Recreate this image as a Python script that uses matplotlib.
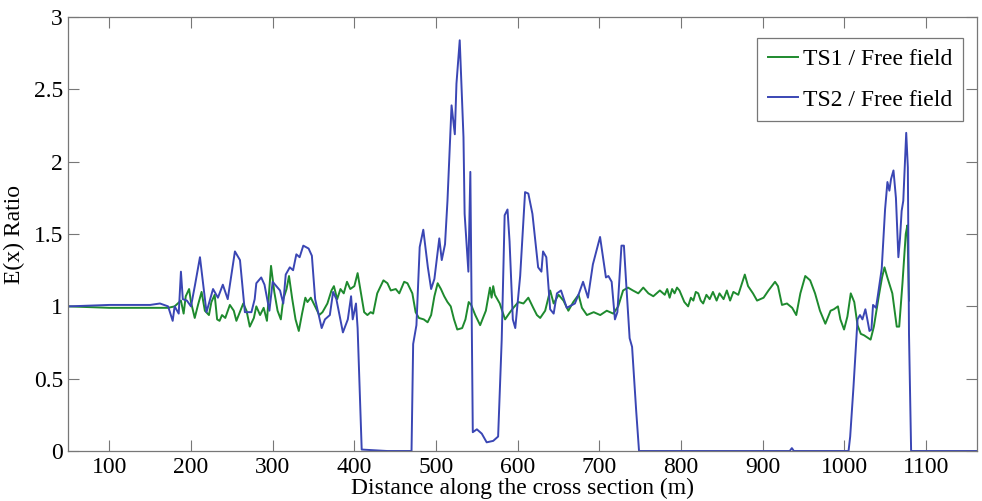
import matplotlib
matplotlib.use("Agg")
import matplotlib.pyplot as plt

# TS1 / Free field (green), (distance, ratio)
ts1_points = [
    (50, 1.0), (100, 0.99), (150, 0.99), (172, 0.99), (180, 1.0), (187.7, 1.04), (191, 0.95),
    (193.6, 1.07), (197.7, 1.12), (200, 1.03), (204.6, 0.92), (208.6, 1.01), (213, 1.10),
    (217, 0.97), (222, 0.94), (225, 1.03), (229, 1.08), (232, 0.91), (235, 0.90), (238, 0.94),
    (242, 0.92), (247.6, 1.01), (252.4, 0.97), (255.6, 0.90), (260.5, 0.97), (264, 1.02),
    (268, 0.97), (272, 0.86), (277, 0.92), (280, 1.0), (284.6, 0.94), (289, 0.99), (293, 0.90),
    (298, 1.28), (302, 1.10), (306, 0.97), (310, 0.91), (313, 1.05), (317, 1.12), (320, 1.21),
    (324, 1.05), (328, 0.91), (332, 0.83), (336, 0.95), (340, 1.06), (342.6, 1.03), (346.7, 1.06),
    (352.8, 0.99), (357, 0.94), (361, 0.96), (367, 1.02), (372, 1.11), (375, 1.14), (379, 1.05),
    (383, 1.12), (387, 1.09), (391, 1.17), (395, 1.12), (400, 1.14), (404, 1.23), (407, 1.13),
    (412, 0.96), (416, 0.94), (420, 0.96), (423, 0.95), (428, 1.09), (435.6, 1.18), (440.5, 1.16),
    (444.6, 1.11), (450.7, 1.12), (455, 1.09), (461, 1.17), (465, 1.16), (471, 1.09), (475, 0.96),
    (479, 0.92), (485, 0.91), (489.7, 0.89), (494, 0.94), (498, 1.07), (502, 1.16), (506, 1.12),
    (510, 1.07), (514, 1.03), (518, 1.0), (522, 0.91), (526, 0.84), (532, 0.85), (536, 0.91),
    (540, 1.03), (543, 1.01), (548, 0.94), (554, 0.87), (561, 0.97), (566, 1.13), (568, 1.06),
    (570, 1.14), (572, 1.08), (575, 1.05), (578, 1.02), (584.5, 0.91), (590.6, 0.96), (594.7, 0.99),
    (600.8, 1.03), (607, 1.02), (613, 1.06), (619, 0.99), (623.5, 0.94), (627.5, 0.92),
    (633.6, 0.97), (639.7, 1.11), (644, 1.02), (650, 1.08), (656, 1.04), (662, 0.97), (668, 1.03),
    (674.5, 1.08), (678.6, 0.99), (684.7, 0.94), (693, 0.96), (701, 0.94), (709, 0.97), (717, 0.95),
    (723, 1.0), (729, 1.11), (735, 1.13), (741, 1.11), (747.6, 1.09), (753.7, 1.13), (760, 1.09),
    (766, 1.07), (774, 1.11), (780, 1.08), (783, 1.12), (786, 1.06), (789, 1.12), (792, 1.09),
    (795, 1.13), (798, 1.11), (801, 1.07), (804, 1.03), (808.6, 1.0), (812, 1.06), (815, 1.04),
    (818, 1.10), (821, 1.09), (824, 1.04), (827, 1.02), (831, 1.08), (835, 1.05), (839, 1.10),
    (843.5, 1.04), (847, 1.09), (852, 1.05), (856, 1.11), (860, 1.04), (864, 1.10), (870, 1.08),
    (878, 1.22), (882, 1.14), (888, 1.09), (893, 1.04), (901, 1.06), (907, 1.11), (915, 1.17),
    (918.6, 1.14), (923.5, 1.01), (929.6, 1.02), (936, 0.99), (941, 0.94), (946, 1.09),
    (952, 1.21), (958, 1.18), (964, 1.09), (970, 0.97), (976.6, 0.88), (983, 0.97), (987, 0.98),
    (992, 1.0), (995, 0.91), (999.5, 0.84), (1003.6, 0.93), (1007.7, 1.09), (1012, 1.03),
    (1016, 0.87), (1020, 0.81), (1024, 0.80), (1032, 0.77), (1036, 0.86), (1042, 1.07),
    (1046, 1.20), (1049, 1.27), (1052.5, 1.20), (1058.6, 1.09), (1064, 0.86), (1067, 0.86),
    (1071, 1.16), (1075, 1.50), (1077, 1.56), (1079, 1.04),
]

# TS2 / Free field (blue)
ts2_points = [
    (50, 1.0), (100, 1.01), (150, 1.01), (162, 1.02), (172, 1.0), (177.6, 0.90), (180, 1.0),
    (185, 0.95), (187.7, 1.24), (190, 1.05), (195, 1.04), (200, 1.0), (205, 1.15), (211, 1.34),
    (219, 0.96), (227, 1.12), (233, 1.06), (239, 1.15), (245, 1.05), (253.8, 1.38), (260, 1.32),
    (266, 0.96), (274, 0.96), (278, 1.05), (280, 1.16), (286, 1.20), (290, 1.15), (296, 0.97),
    (300, 1.17), (309, 1.11), (313, 1.02), (316, 1.22), (321, 1.27), (325, 1.25), (329, 1.36),
    (333, 1.34), (337.5, 1.42), (344, 1.40), (348, 1.35), (352, 1.05), (360, 0.85), (364, 0.91),
    (370, 0.94), (374, 1.10), (378, 1.05), (386, 0.82), (392, 0.91), (396, 1.07), (398, 0.91),
    (402, 1.02), (404, 0.85), (409, 0.01), (440, 0.0), (470, 0.0), (472, 0.74), (476, 0.87),
    (480, 1.41), (484.4, 1.53), (490, 1.27), (494, 1.12), (498, 1.19), (504, 1.47), (507, 1.32),
    (511, 1.43), (514, 1.73), (519, 2.39), (523, 2.19), (525, 2.54), (529, 2.84), (533.6, 2.17),
    (535, 1.64), (539.6, 1.24), (542, 1.93), (545, 0.13), (550, 0.15), (556, 0.12), (562, 0.06),
    (570, 0.07), (576, 0.10), (580.4, 0.77), (584, 1.63), (587.5, 1.67), (590, 1.45), (594, 0.91),
    (597, 0.85), (603, 1.21), (609, 1.79), (613, 1.78), (618, 1.64), (625, 1.27), (629, 1.24),
    (631, 1.38), (635, 1.34), (639.7, 0.98), (644, 0.95), (648, 1.09), (653, 1.11), (660, 0.99),
    (670, 1.02), (675, 1.09), (680, 1.17), (686, 1.06), (692, 1.29), (700.8, 1.48), (708, 1.20),
    (711, 1.21), (715, 1.17), (719, 0.91), (722, 0.96), (727, 1.42), (730, 1.42), (733, 1.14),
    (737, 0.78), (740, 0.72), (745, 0.28), (748.5, 0.0), (850, 0.0), (933, 0.0), (935.6, 0.02),
    (938, 0.0), (1005, 0.0), (1007, 0.10), (1011, 0.44), (1016, 0.91), (1019, 0.94), (1022, 0.91),
    (1025.6, 0.98), (1028, 0.91), (1030.6, 0.83), (1033, 0.84), (1035, 1.01), (1038.6, 0.99),
    (1041, 1.08), (1045.6, 1.26), (1049.7, 1.67), (1052.6, 1.86), (1055, 1.80), (1057, 1.88),
    (1060, 1.94), (1063, 1.75), (1066, 1.34), (1068, 1.47), (1070, 1.66), (1072, 1.73),
    (1075.6, 2.20), (1077.6, 1.96), (1079, 0.81), (1081.6, 0.0), (1162, 0.0),
]

ts1_x, ts1_y = zip(*ts1_points)
ts2_x, ts2_y = zip(*ts2_points)

plt.rcParams["font.family"] = ["Liberation Serif", "DejaVu Serif"]

fig = plt.figure(figsize=(9.82, 5.01), dpi=100)
ax = fig.add_axes([0.0697, 0.0998, 0.925, 0.866])

ax.plot(ts1_x, ts1_y, color="#1e8a2e", lw=1.4, label="TS1 / Free field")
ax.plot(ts2_x, ts2_y, color="#3a46b4", lw=1.4, label="TS2 / Free field")

ax.set_xlim(50, 1162)
ax.set_ylim(0, 3)
ax.set_xticks(range(100, 1101, 100))
ax.set_yticks([0, 0.5, 1, 1.5, 2, 2.5, 3])
ax.set_yticklabels(["0", "0.5", "1", "1.5", "2", "2.5", "3"])
ax.tick_params(direction="in", length=8, width=0.8, color="#777777", labelsize=17,
               top=True, right=True, pad=4)
for s in ax.spines.values():
    s.set_color("#777777")
    s.set_linewidth(0.9)

ax.set_xlabel("Distance along the cross section (m)", fontsize=17, labelpad=0)
ax.set_ylabel("E(x) Ratio", fontsize=17, labelpad=6)

leg = ax.legend(loc="upper right", bbox_to_anchor=(0.985, 0.952), fontsize=17,
                fancybox=False, framealpha=1, edgecolor="#777777", borderaxespad=0,
                handlelength=1.3, handletextpad=0.2, borderpad=0.45, labelspacing=0.8)
leg.get_frame().set_linewidth(0.9)

plt.savefig("out.png", dpi=100)
